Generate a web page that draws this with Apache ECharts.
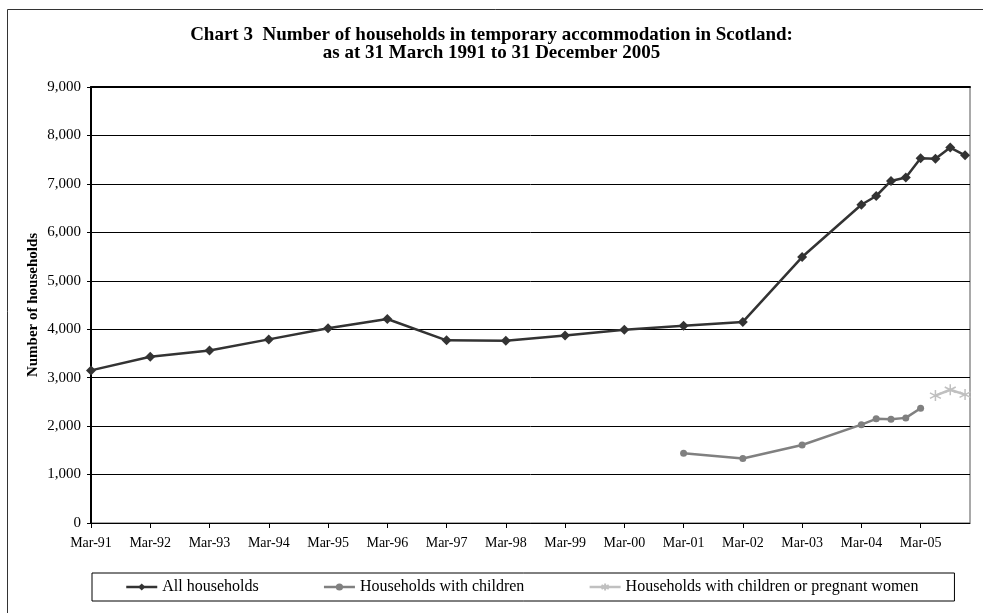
<!DOCTYPE html>
<html>
<head>
<meta charset="utf-8">
<script src="https://cdn.jsdelivr.net/npm/echarts@6/dist/echarts.min.js"></script>
<style>html,body{margin:0;padding:0;background:#fff}#c{width:983px;height:613px}</style>
</head>
<body>
<div id="c"></div>
<script>
// months since March 1991
const tickMonths = [0,12,24,36,48,60,72,84,96,108,120,132,144,156,168];
const tickLabels = ['Mar-91','Mar-92','Mar-93','Mar-94','Mar-95','Mar-96','Mar-97','Mar-98','Mar-99','Mar-00','Mar-01','Mar-02','Mar-03','Mar-04','Mar-05'];
const allMonths = [0,12,24,36,48,60,72,84,96,108,120,132,144,156,159,162,165,168,171,174,177];
const allValues = [3150,3430,3560,3790,4020,4210,3770,3760,3870,3990,4070,4150,5490,6570,6750,7060,7130,7530,7520,7750,7590];
const childMonths = [120,132,144,156,159,162,165,168];
const childValues = [1440,1330,1610,2030,2150,2140,2170,2370];
const pregMonths = [171,174,177];
const pregValues = [2630,2750,2650];
const seriesNames = ['All households','Households with children','Households with children or pregnant women'];

const pair = (xs, ys) => xs.map((x,i) => [x, ys[i]]);
const FONT = '"Liberation Serif","Times New Roman",serif';
const asterisk = 'path://M0,-6L0,6M-5.2,-3L5.2,3M-5.2,3L5.2,-3';

const chart = echarts.init(document.getElementById('c'), null, {renderer:'canvas'});
chart.setOption({
  animation: false,
  backgroundColor: '#fff',
  textStyle: {fontFamily: FONT},
  graphic: [{
    type: 'rect', z: -10, silent: true,
    shape: {x: 7.5, y: 9.5, width: 1000, height: 1000},
    style: {fill: 'none', stroke: '#333', lineWidth: 1}
  }],
  title: {
    text: 'Chart 3  Number of households in temporary accommodation in Scotland:\nas at 31 March 1991 to 31 December 2005',
    left: 'center', top: 26, padding: 0,
    textStyle: {fontFamily: FONT, fontSize: 19, fontWeight: 'bold', color: '#000', lineHeight: 18}
  },
  legend: {
    data: seriesNames,
    left: 92, top: 573,
    orient: 'horizontal',
    padding: [6, 36, 6, 33],
    itemGap: 64,
    itemWidth: 31, itemHeight: 9,
    lineStyle: {width: 2.5},
    borderColor: '#000', borderWidth: 1,
    textStyle: {fontFamily: FONT, fontSize: 16, color: '#000'}
  },
  grid: {left: 91, right: 13, top: 87, bottom: 90, show: true, borderColor: '#555', borderWidth: 1, containLabel: false},
  xAxis: [{
    type: 'value', min: 0, max: 178,
    axisLine: {show: true, onZero: false, lineStyle: {color: '#000', width: 1}},
    axisTick: {show: true, length: 5, inside: false, customValues: tickMonths, lineStyle: {color: '#000'}},
    axisLabel: {
      customValues: tickMonths,
      margin: 13, fontFamily: FONT, fontSize: 14, color: '#000',
      formatter: v => tickLabels[tickMonths.indexOf(v)]
    },
    splitLine: {show: false}
  }, {
    type: 'value', position: 'top', min: 0, max: 178,
    axisLine: {show: true, onZero: false, lineStyle: {color: '#000', width: 2}},
    axisTick: {show: false}, axisLabel: {show: false}, splitLine: {show: false}
  }],
  yAxis: {
    type: 'value', min: 0, max: 9000, interval: 1000,
    name: 'Number of households', nameLocation: 'middle', nameGap: 50, nameMoveOverlap: false,
    nameTextStyle: {fontFamily: FONT, fontSize: 15, fontWeight: 'bold', color: '#000'},
    axisLine: {show: true, lineStyle: {color: '#000', width: 2}},
    axisTick: {show: true, length: 4, lineStyle: {color: '#000'}},
    axisLabel: {margin: 10, fontFamily: FONT, fontSize: 15, color: '#000',
      formatter: v => v.toLocaleString('en-US')},
    splitLine: {show: true, lineStyle: {color: '#000', width: 1}}
  },
  series: [
    {
      name: seriesNames[0], type: 'line', data: pair(allMonths, allValues),
      symbol: 'diamond', symbolSize: 10,
      lineStyle: {color: '#333', width: 2.5},
      itemStyle: {color: '#333'}, z: 3
    },
    {
      name: seriesNames[1], type: 'line', data: pair(childMonths, childValues),
      symbol: 'circle', symbolSize: 7,
      lineStyle: {color: '#808080', width: 2.5},
      itemStyle: {color: '#808080'}, z: 2
    },
    {
      name: seriesNames[2], type: 'line', data: pair(pregMonths, pregValues),
      symbol: asterisk, symbolSize: 11,
      lineStyle: {color: '#c0c0c0', width: 2.5},
      itemStyle: {color: '#c0c0c0', borderColor: '#c0c0c0', borderWidth: 1.5}, z: 2
    }
  ]
});
</script>
</body>
</html>
